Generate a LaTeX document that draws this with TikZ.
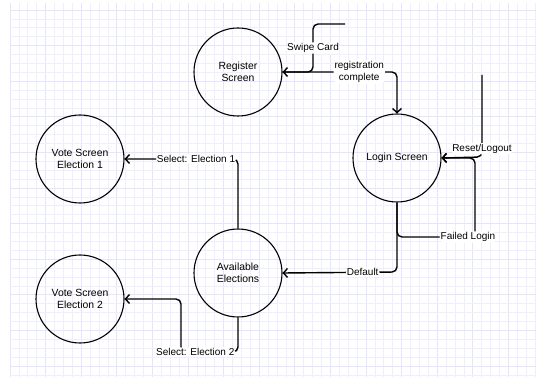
\documentclass[tikz,border=0pt]{standalone}
\usepackage{fontspec}
\setmainfont{Liberation Sans}
\usetikzlibrary{arrows.meta}
\definecolor{gridminor}{RGB}{238,238,255}
\definecolor{gridmajor}{RGB}{228,228,255}

\begin{document}
\begin{tikzpicture}[x=1pt, y=-1pt,
    screen/.style={draw, line width=1.1pt, circle, minimum size=88pt, inner sep=0pt,
        align=center, font=\fontsize{10.4}{12.5}\selectfont},
    flow/.style={line width=1.4pt, rounded corners=5pt, -{Straight Barb[length=4pt,width=9pt]}},
    lbl/.style={fill=white, inner sep=1pt, align=center, font=\fontsize{10}{12.5}\selectfont}]
    \useasboundingbox (0,0) rectangle (536,379);
    %%% Background grid
    \foreach \i in {0,...,59} {
        \pgfmathtruncatemacro{\major}{mod(\i,4)==0}
        \ifnum\major=1
            \draw[gridmajor, line width=0.8pt] ({10+8.9*\i},3) -- ({10+8.9*\i},377);
        \else
            \draw[gridminor, line width=0.7pt] ({10+8.9*\i},3) -- ({10+8.9*\i},377);
        \fi
    }
    \foreach \j in {0,...,41} {
        \pgfmathtruncatemacro{\major}{mod(\j,4)==0}
        \ifnum\major=1
            \draw[gridmajor, line width=0.8pt] (10,{10+8.9*\j}) -- (536,{10+8.9*\j});
        \else
            \draw[gridminor, line width=0.7pt] (10,{10+8.9*\j}) -- (536,{10+8.9*\j});
        \fi
    }
    %
    %%% Screens
    \node[screen] (register) at (238,72) {Register\\Screen};
    \node[screen] (login) at (397,158) {Login Screen};
    \node[screen] (avail) at (238,273) {Available\\Elections};
    \node[screen] (vote1) at (80,159) {Vote Screen\\Election 1};
    \node[screen] (vote2) at (80,299) {Vote Screen\\Election 2};
    %
    \coordinate (swipe) at (345,24);
    \coordinate (reset) at (482,75);
    %
    %%% Transitions
    \draw[flow] (register.east) -- node[lbl, pos=0.67] {registration\\complete} (397,72) -- (login.north);
    \draw[flow] (swipe) -- (313,24) -- node[lbl] {Swipe Card} (313,72) -- (register.east);
    %
    \draw[flow] (reset) -- node[lbl, pos=0.9] {Reset/Logout} (482,157) -- (login.east);
    \draw[flow] (login.south) -- (397,237) -- node[lbl, pos=0.91] {Failed Login} (475,237) -- (475,158) -- (login.east);
    \draw[flow] (login.south) -- (397,272) -- node[lbl, pos=0.3] {Default} (avail.east);
    %
    \draw[flow] (avail.north) -- (238,159) -- node[lbl, pos=0.37] {Select: Election 1} (vote1.east);
    \draw[flow] (avail.south) -- (238,352) -- node[lbl, pos=0.75] {Select: Election 2} (181,352) -- (181,299) -- (vote2.east);
\end{tikzpicture}
\end{document}
